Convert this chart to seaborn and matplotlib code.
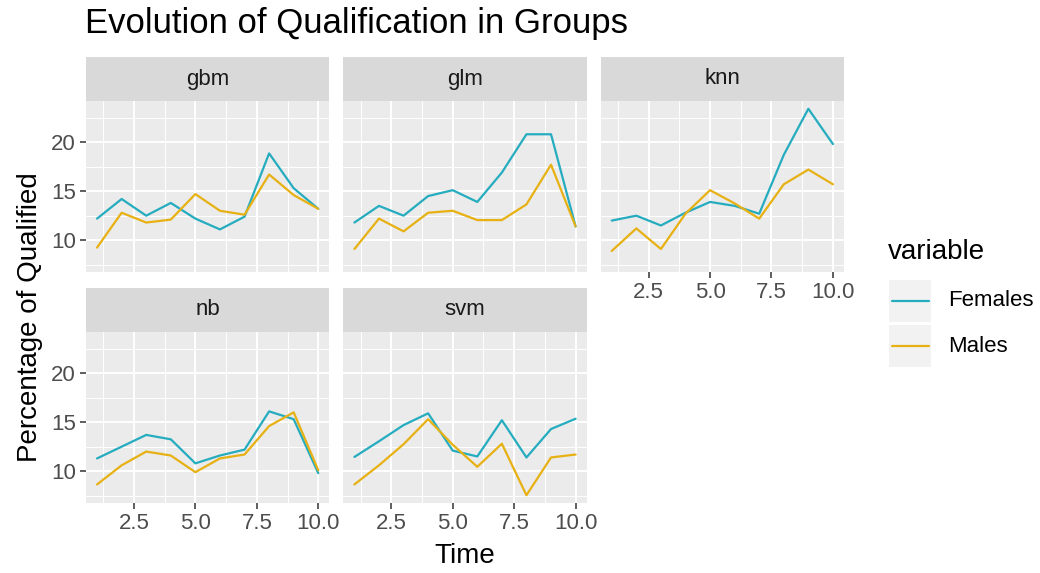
import numpy as np
import pandas as pd
import matplotlib
matplotlib.use("Agg")
import matplotlib.pyplot as plt
import seaborn as sns
from matplotlib.patches import Rectangle
from matplotlib.lines import Line2D
from matplotlib.ticker import MultipleLocator, FormatStrFormatter

# values
time = list(range(1, 11))
models = ["gbm", "glm", "knn", "nb", "svm"]

gbm_females = [12.2, 14.2, 12.5, 13.8, 12.2, 11.1, 12.4, 18.85, 15.3, 13.2]
gbm_males = [9.25, 12.8, 11.8, 12.1, 14.7, 13.0, 12.6, 16.7, 14.6, 13.2]
glm_females = [11.8, 13.5, 12.5, 14.5, 15.1, 13.9, 16.9, 20.8, 20.8, 11.4]
glm_males = [9.1, 12.2, 10.9, 12.8, 13.0, 12.05, 12.05, 13.65, 17.7, 11.4]
knn_females = [12.0, 12.5, 11.5, 12.8, 13.9, 13.5, 12.7, 18.7, 23.4, 19.8]
knn_males = [8.9, 11.2, 9.1, 12.7, 15.1, 13.75, 12.2, 15.7, 17.2, 15.7]
nb_females = [11.3, 12.5, 13.7, 13.25, 10.8, 11.6, 12.2, 16.1, 15.3, 9.8]
nb_males = [8.65, 10.6, 12.0, 11.6, 9.9, 11.3, 11.7, 14.6, 16.0, 10.1]
svm_females = [11.45, 13.05, 14.7, 15.9, 12.1, 11.5, 15.2, 11.4, 14.3, 15.35]
svm_males = [8.65, 10.6, 12.75, 15.3, 12.7, 10.45, 12.8, 7.55, 11.4, 11.7]

series = {
    "gbm": (gbm_females, gbm_males),
    "glm": (glm_females, glm_males),
    "knn": (knn_females, knn_males),
    "nb": (nb_females, nb_males),
    "svm": (svm_females, svm_males),
}

rows = []
for m in models:
    f, ml = series[m]
    for t, v in zip(time, f):
        rows.append({"model": m, "Time": t, "variable": "Females", "value": v})
    for t, v in zip(time, ml):
        rows.append({"model": m, "Time": t, "variable": "Males", "value": v})
df = pd.DataFrame(rows)

TEAL = "#25ACBF"
GOLD = "#E7B114"
W, H = 1040, 573

sns.set_theme(style="darkgrid", rc={
    "axes.facecolor": "#EBEBEB",
    "xtick.bottom": True, "ytick.left": True,
    "xtick.major.size": 4.3, "ytick.major.size": 4.3,
    "xtick.major.width": 1.1, "ytick.major.width": 1.1,
    "xtick.color": "#333333", "ytick.color": "#333333",
    "xtick.direction": "out", "ytick.direction": "out",
})
plt.rcParams["font.family"] = ["Liberation Sans", "DejaVu Sans"]

g = sns.relplot(data=df, x="Time", y="value", hue="variable", col="model",
                col_wrap=3, kind="line", hue_order=["Females", "Males"],
                palette=[TEAL, GOLD], legend=False, linewidth=1.6,
                height=3, aspect=1.4, col_order=models)
fig = g.figure
fig.set_size_inches(W / 100, H / 100)
fig.set_dpi(100)
g.set_titles("")
g.set_axis_labels("", "")

panel_h = 171
fig.subplots_adjust(left=86 / W, right=844 / W, top=1 - 101 / H,
                    bottom=1 - 503 / H, wspace=14 / 243, hspace=60 / panel_h)

lo = df["value"].min()
hi = df["value"].max()
pad = (hi - lo) * 0.05

for i, (ax, name) in enumerate(zip(g.axes.flat, models)):
    ax.set_xlim(1 - 0.45, 10 + 0.45)
    ax.set_ylim(lo - pad, hi + pad)
    ax.xaxis.set_major_locator(MultipleLocator(2.5))
    ax.xaxis.set_minor_locator(MultipleLocator(1.25))
    ax.yaxis.set_major_locator(MultipleLocator(5))
    ax.yaxis.set_minor_locator(MultipleLocator(2.5))
    ax.grid(which="major", color="white", linewidth=1.4)
    ax.grid(which="minor", color="white", linewidth=0.7)
    ax.set_axisbelow(True)
    for s in ax.spines.values():
        s.set_visible(False)
    ax.tick_params(which="minor", length=0)
    ax.tick_params(which="major", labelsize=16, labelcolor="#4D4D4D", pad=3)
    if i in (0, 3):
        ax.tick_params(axis="y", which="major", left=True, length=4.3,
                       width=1.1, color="#333333")
    else:
        ax.tick_params(axis="y", length=0, labelleft=False)
    if i in (0, 1):
        ax.tick_params(axis="x", length=0, labelbottom=False)
    else:
        ax.tick_params(axis="x", which="major", bottom=True, length=4.3,
                       width=1.1, color="#333333", labelbottom=True)
        ax.xaxis.set_major_formatter(FormatStrFormatter("%.1f"))

    # facet strip
    sh = 44 / panel_h
    ax.add_patch(Rectangle((0, 1), 1, sh, transform=ax.transAxes,
                           clip_on=False, facecolor="#D9D9D9",
                           edgecolor="none"))
    ax.text(0.5, 1 + sh / 2, name, transform=ax.transAxes, ha="center",
            va="center", fontsize=16, color="#1A1A1A")

fig.text(85 / W, 1 - 33 / H, "Evolution of Qualification in Groups",
         fontsize=25, color="black", va="baseline", ha="left")
fig.text(465 / W, 1 - 556 / H, "Time", fontsize=20, ha="center",
         va="center", color="black")
fig.text(30 / W, 1 - 317 / H, "Percentage of Qualified", fontsize=20,
         rotation=90, ha="center", va="center", color="black")

# legend
fig.text(888 / W, 1 - 252 / H, "variable", fontsize=20, ha="left",
         va="center", color="black")
for k, (lab, col) in enumerate([("Females", TEAL), ("Males", GOLD)]):
    top = 280 + k * 45
    fig.patches.append(Rectangle((889 / W, 1 - (top + 42) / H), 42 / W,
                                 42 / H, transform=fig.transFigure,
                                 facecolor="#F2F2F2", edgecolor="none"))
    yc = 1 - (top + 21) / H
    fig.lines.append(Line2D([892 / W, 929 / W], [yc, yc],
                            transform=fig.transFigure, color=col,
                            linewidth=1.6))
    fig.text(948 / W, yc, lab, fontsize=16, ha="left", va="center",
             color="black")

fig.savefig("out.png", dpi=100)
